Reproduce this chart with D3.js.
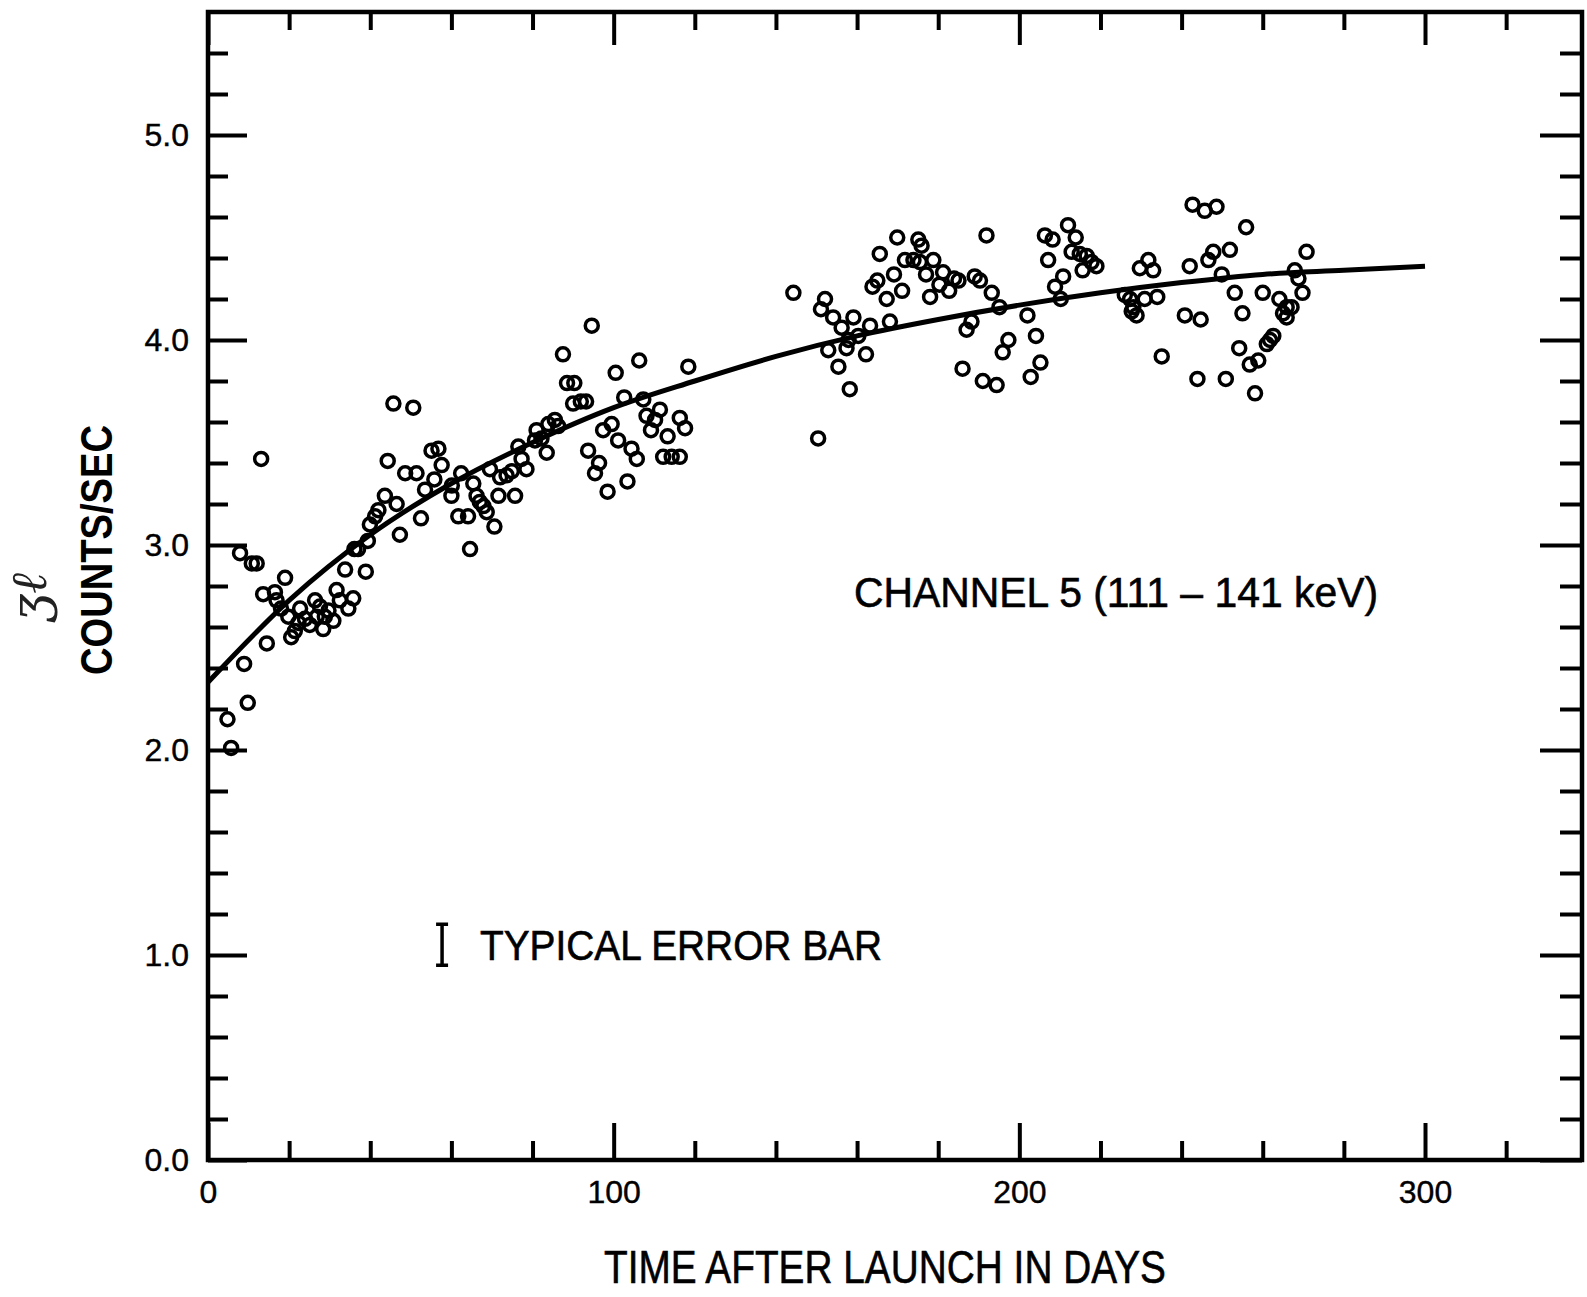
<!DOCTYPE html>
<html>
<head>
<meta charset="utf-8">
<script src="https://cdn.jsdelivr.net/npm/d3@7"></script>
<style>
  body { margin: 0; background: #fff; }
  svg { display: block; }
  text { font-family: "Liberation Sans", Arial, sans-serif; fill: #000; }
</style>
</head>
<body>
<div id="chart-area"></div>
<script>
const obsDay = [
  4.8, 5.7, 7.9, 8.9, 9.8, 10.8, 12.0, 13.1, 13.6, 14.5, 16.5, 16.9, 18.0, 19.0, 19.8,
  20.5, 21.4, 22.3, 22.7, 23.9, 25.1, 26.4, 26.8, 27.6, 28.4, 28.8, 29.7, 30.9, 31.7, 32.5,
  33.8, 34.6, 35.8, 36.1, 37.0, 38.9, 39.4, 39.9, 41.2, 42.0, 43.6, 44.3, 45.7, 46.5, 47.3,
  48.6, 50.6, 51.4, 52.5, 53.5, 55.1, 55.8, 56.8, 57.6, 60.0, 60.1, 61.7, 62.4, 64.1, 64.6,
  65.4, 66.2, 67.0, 67.9, 68.7, 69.5, 70.6, 71.6, 72.0, 73.6, 74.9, 75.7, 76.5, 77.3, 78.5,
  80.6, 81.0, 82.2, 83.5, 83.9, 85.5, 86.3, 87.5, 88.5, 90.3, 90.0, 91.9, 93.2, 93.7, 94.6,
  95.4, 96.4, 97.4, 98.5, 99.5, 100.5, 101.1, 102.6, 103.4, 104.4, 105.7, 106.3, 107.3, 108.1, 109.2,
  110.2, 111.4, 112.2, 113.3, 114.3, 116.3, 116.3, 117.6, 118.4,
  144.3, 150.4, 151.1, 152.1, 152.9, 154.1, 155.4, 156.2, 157.4, 157.9, 158.2, 159.1, 160.3, 162.2, 163.2,
  163.8, 165.0, 165.6, 167.3, 168.1, 169.1, 169.9, 171.1, 171.8, 173.9, 175.1, 175.5, 175.9, 177.0, 178.0,
  178.8, 180.3, 181.2, 182.7, 183.9, 185.0, 186.0, 187.0, 188.2, 189.0, 190.3, 191.0, 191.9, 193.2, 194.4,
  195.1, 195.9, 197.3, 202.0, 202.8, 204.1, 205.2,
  206.3, 208.2, 207.1, 208.8, 210.2, 210.8, 212.0, 212.9, 213.9, 214.9, 215.6, 216.6, 217.8, 219.0, 226.0,
  227.3, 227.7, 228.1, 228.9, 229.7, 230.9, 231.8, 233.0, 234.0, 235.1, 240.8, 242.0, 242.7, 243.9, 244.7,
  245.7, 246.6, 247.8, 248.6, 249.9, 250.9, 251.9, 253.1, 254.2, 255.0, 255.9, 256.8, 258.1, 258.9, 260.0,
  261.0, 261.8, 262.6, 264.1, 265.0, 265.9, 265.9, 267.1, 267.9, 268.8, 269.8, 270.8
];
const obsRate = [
  2.15, 2.01, 2.96, 2.42, 2.23, 2.91, 2.91, 3.42, 2.76, 2.52, 2.77, 2.73, 2.69, 2.84, 2.65,
  2.55, 2.58, 2.62, 2.69, 2.64, 2.61, 2.73, 2.65, 2.70, 2.59, 2.65, 2.68, 2.63, 2.78, 2.73,
  2.88, 2.69, 2.74, 2.98, 2.98, 2.87, 3.02, 3.10, 3.14, 3.17, 3.24, 3.41, 3.69, 3.20, 3.05,
  3.35, 3.67, 3.35, 3.13, 3.27, 3.46, 3.32, 3.47, 3.39, 3.24, 3.29, 3.14, 3.35, 3.14, 2.98,
  3.30, 3.24, 3.21, 3.19, 3.16, 3.37, 3.09, 3.24, 3.33, 3.34, 3.36, 3.24, 3.48, 3.42, 3.37,
  3.51, 3.56, 3.52, 3.45, 3.59, 3.61, 3.58, 3.93, 3.79, 3.79, 3.69, 3.70, 3.70, 3.46, 4.07,
  3.35, 3.40, 3.56, 3.26, 3.59, 3.84, 3.51, 3.72, 3.31, 3.47, 3.42, 3.90, 3.71, 3.63, 3.56,
  3.61, 3.66, 3.43, 3.53, 3.43, 3.43, 3.62, 3.57, 3.87,
  4.23, 3.52, 4.15, 4.20, 3.95, 4.11, 3.87, 4.06, 3.96, 4.00, 3.76, 4.11, 4.02, 3.93, 4.07,
  4.26, 4.29, 4.42, 4.20, 4.09, 4.32, 4.50, 4.24, 4.39, 4.39, 4.49, 4.38, 4.46, 4.32, 4.21,
  4.39, 4.27, 4.33, 4.24, 4.30, 4.29, 3.86, 4.05, 4.09, 4.31, 4.29, 3.80, 4.51, 4.23, 3.78,
  4.16, 3.94, 4.00, 4.12, 3.82, 4.02, 3.89,
  4.51, 4.49, 4.39, 4.26, 4.20, 4.31, 4.56, 4.43, 4.50, 4.42, 4.34, 4.41, 4.38, 4.36, 4.22,
  4.20, 4.14, 4.16, 4.12, 4.35, 4.20, 4.39, 4.34, 4.21, 3.92, 4.12, 4.36, 4.66, 3.81, 4.10,
  4.63, 4.39, 4.43, 4.65, 4.32, 3.81, 4.44, 4.23, 3.96, 4.13, 4.55, 3.88, 3.74, 3.90, 4.23,
  3.98, 4.00, 4.02, 4.20, 4.13, 4.16, 4.11, 4.16, 4.34, 4.30, 4.23, 4.43
];

// smooth curve
const fitDay  = [0, 20, 40, 60, 80, 100, 120, 140, 160, 180, 200, 220, 240, 260, 280, 300];
const fitRate = [2.33, 2.73, 3.05, 3.30, 3.50, 3.67, 3.80, 3.92, 4.02, 4.10, 4.17, 4.23, 4.28, 4.32, 4.34, 4.36];

// axis ticks
const xMajor = [0, 100, 200, 300];
const xMinor = [20, 40, 60, 80, 120, 140, 160, 180, 220, 240, 260, 280, 320];
const yMajor = [0, 1, 2, 3, 4, 5];
const yMinor = [0.2, 0.4, 0.6, 0.8, 1.2, 1.4, 1.6, 1.8, 2.2, 2.4, 2.6, 2.8,
                3.2, 3.4, 3.6, 3.8, 4.2, 4.4, 4.6, 4.8, 5.2, 5.4];

// typical error bar (day, low, high)
const errBar = [57.7, 0.95, 1.15];

const W = 1587, H = 1297;
const box = {left: 208, right: 1582, top: 12, bottom: 1160};

const svg = d3.select('#chart-area').append('svg')
  .attr('width', W)
  .attr('height', H);

const x = d3.scaleLinear().domain([0, 338.7]).range([box.left, box.right]);
const y = d3.scaleLinear().domain([0, 5.6]).range([box.bottom, box.top]);

const fmtY = d3.format('.1f');

function styleAxis(g, width) {
  g.select('.domain').remove();
  g.selectAll('.tick line').attr('stroke', '#000').attr('stroke-width', width);
  g.selectAll('.tick text').attr('font-size', 32).attr('fill', '#000')
    .attr('stroke', '#000').attr('stroke-width', 0.4)
    .attr('font-family', '"Liberation Sans", Arial, sans-serif');
}

// bottom axis
svg.append('g').attr('transform', `translate(0,${box.bottom})`)
  .call(d3.axisBottom(x).tickValues(xMajor).tickSize(-37).tickPadding(20).tickFormat(d3.format('d')))
  .call(g => styleAxis(g, 4));
svg.append('g').attr('transform', `translate(0,${box.bottom})`)
  .call(d3.axisBottom(x).tickValues(xMinor).tickSize(-19).tickFormat(''))
  .call(g => styleAxis(g, 4));
// top axis
svg.append('g').attr('transform', `translate(0,${box.top})`)
  .call(d3.axisTop(x).tickValues(xMajor).tickSize(-33).tickFormat(''))
  .call(g => styleAxis(g, 4));
svg.append('g').attr('transform', `translate(0,${box.top})`)
  .call(d3.axisTop(x).tickValues(xMinor).tickSize(-18).tickFormat(''))
  .call(g => styleAxis(g, 4));
// left axis
svg.append('g').attr('transform', `translate(${box.left},0)`)
  .call(d3.axisLeft(y).tickValues(yMajor).tickSize(-39).tickPadding(19).tickFormat(fmtY))
  .call(g => styleAxis(g, 4));
svg.append('g').attr('transform', `translate(${box.left},0)`)
  .call(d3.axisLeft(y).tickValues(yMinor).tickSize(-20).tickFormat(''))
  .call(g => styleAxis(g, 4));
// right axis
svg.append('g').attr('transform', `translate(${box.right},0)`)
  .call(d3.axisRight(y).tickValues(yMajor).tickSize(-42).tickFormat(''))
  .call(g => styleAxis(g, 4));
svg.append('g').attr('transform', `translate(${box.right},0)`)
  .call(d3.axisRight(y).tickValues(yMinor).tickSize(-22).tickFormat(''))
  .call(g => styleAxis(g, 4));

// frame
svg.append('rect')
  .attr('x', box.left).attr('y', box.top)
  .attr('width', box.right - box.left).attr('height', box.bottom - box.top)
  .attr('fill', 'none').attr('stroke', '#000').attr('stroke-width', 4.5);

// fitted curve
const fit = fitDay.map((d, i) => [d, fitRate[i]]);
svg.append('path')
  .datum(fit)
  .attr('fill', 'none')
  .attr('stroke', '#000')
  .attr('stroke-width', 5)
  .attr('d', d3.line().x(d => x(d[0])).y(d => y(d[1])).curve(d3.curveMonotoneX));

// observations
const obs = obsDay.map((d, i) => [d, obsRate[i]]);
svg.append('g').selectAll('circle').data(obs)
  .enter().append('circle')
  .attr('cx', d => x(d[0]))
  .attr('cy', d => y(d[1]))
  .attr('r', 6.5)
  .attr('fill', 'none')
  .attr('stroke', '#000')
  .attr('stroke-width', 3.5);

// labels
svg.append('text')
  .attr('x', 854).attr('y', 607)
  .attr('font-size', 43)
  .attr('stroke', '#000').attr('stroke-width', 0.6)
  .attr('textLength', 524).attr('lengthAdjust', 'spacingAndGlyphs')
  .text('CHANNEL 5 (111 \u2013 141 keV)');

const eb = svg.append('g').attr('stroke', '#000').attr('stroke-width', 3.5);
eb.append('line').attr('x1', x(errBar[0])).attr('x2', x(errBar[0]))
  .attr('y1', y(errBar[1])).attr('y2', y(errBar[2]));
eb.append('line').attr('x1', x(errBar[0]) - 6).attr('x2', x(errBar[0]) + 6)
  .attr('y1', y(errBar[1])).attr('y2', y(errBar[1]));
eb.append('line').attr('x1', x(errBar[0]) - 6).attr('x2', x(errBar[0]) + 6)
  .attr('y1', y(errBar[2])).attr('y2', y(errBar[2]));

svg.append('text')
  .attr('x', 480).attr('y', 960)
  .attr('font-size', 42)
  .attr('stroke', '#000').attr('stroke-width', 0.6)
  .attr('textLength', 402).attr('lengthAdjust', 'spacingAndGlyphs')
  .text('TYPICAL ERROR BAR');

// axis titles
svg.append('text')
  .attr('x', 604).attr('y', 1283)
  .attr('font-size', 47)
  .attr('stroke', '#000').attr('stroke-width', 0.6)
  .attr('textLength', 562).attr('lengthAdjust', 'spacingAndGlyphs')
  .text('TIME AFTER LAUNCH IN DAYS');

svg.append('text')
  .attr('transform', 'translate(112,675) rotate(-90)')
  .attr('font-size', 45)
  .attr('font-weight', 'bold')
  .attr('textLength', 250).attr('lengthAdjust', 'spacingAndGlyphs')
  .text('COUNTS/SEC');

// handwritten mark beside the y title
svg.append('text')
  .attr('transform', 'translate(46,622) rotate(-90)')
  .attr('font-size', 50)
  .style('font-family', '"DejaVu Serif", serif')
  .style('font-style', 'italic')
  .style('fill', '#222')
  .text('\u0292\u2113');
</script>
</body>
</html>
